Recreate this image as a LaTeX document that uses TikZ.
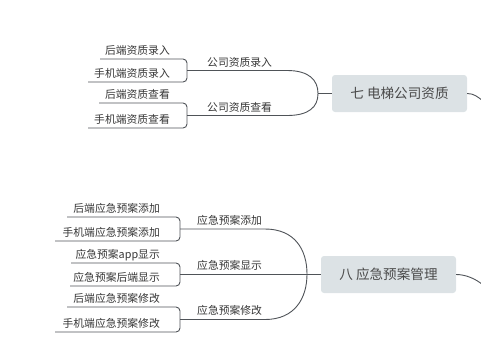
\documentclass[tikz,border=0pt]{standalone}
\usepackage{fontspec}
\setmainfont{Noto Sans CJK SC}
\definecolor{lnc}{HTML}{4F5358}
\definecolor{txc}{HTML}{363636}
\definecolor{nodefill}{HTML}{DCE2E5}
\definecolor{nodetxt}{HTML}{4A4A4A}
\begin{document}
\begin{tikzpicture}[x=1pt,y=-1pt,
  ln/.style={draw=lnc,line width=0.9pt},
  brk/.style={ln,rounded corners=4pt},
  leaf/.style={anchor=base east,inner sep=0pt,text=txc,font=\fontsize{10.8}{12}\selectfont},
  branch/.style={anchor=base west,inner sep=0pt,text=txc,font=\fontsize{10.8}{12}\selectfont},
  mainbox/.style={fill=nodefill,rounded corners=3pt,minimum width=135pt,minimum height=37pt,inner sep=0pt,text=nodetxt,font=\fontsize{13.6}{15}\selectfont}]
\useasboundingbox (0,0) rectangle (481,349);

% ---------- group 1 ----------
\node[mainbox] (m1) at (399.5,93.5) {七 电梯公司资质};
\coordinate (j1) at (318,93.5);

\node[branch] (b1) at (207,66) {公司资质录入};
\node[branch] (b2) at (207,111) {公司资质查看};
\node[leaf] (l1) at (170,54) {后端资质录入};
\node[leaf] (l2) at (170,77.5) {手机端资质录入};
\node[leaf] (l3) at (170,98) {后端资质查看};
\node[leaf] (l4) at (170,123) {手机端资质查看};

\coordinate (l1s) at (100,59);   \coordinate (l2s) at (88,82);
\coordinate (l3s) at (99,103);   \coordinate (l4s) at (88,128);
\draw[brk] (l1s) -- (187,59) -- (187,82) -- (l2s);
\draw[brk] (l3s) -- (187,103) -- (187,128) -- (l4s);
\draw[ln] (187,70.5) -- (287,70.5) .. controls (309,70.5) and (318,80) .. (j1);
\draw[ln] (187,115.5) -- (287,115.5) .. controls (309,115.5) and (318,107) .. (j1);
\draw[ln] (j1) -- (m1.west);
\coordinate (r1) at (483,101);
\draw[ln] (m1.east) .. controls (474,93.5) and (478,97) .. (r1);

% ---------- group 2 ----------
\node[mainbox] (m2) at (388.5,274.5) {八 应急预案管理};
\coordinate (j2) at (307,274);

\node[branch] (c1) at (197,224.5) {应急预案添加};
\node[branch] (c2) at (197,269.5) {应急预案显示};
\node[branch] (c3) at (197,314.5) {应急预案修改};

\node[leaf] (k1) at (160,212.5) {后端应急预案添加};
\node[leaf] (k2) at (160,236.5) {手机端应急预案添加};
\node[leaf] (k3) at (160,258.5) {应急预案app显示};
\node[leaf] (k4) at (160,281.5) {应急预案后端显示};
\node[leaf] (k5) at (160,302.5) {后端应急预案修改};
\node[leaf] (k6) at (160,327.5) {手机端应急预案修改};

\coordinate (k1s) at (67,217);  \coordinate (k2s) at (55,241);
\coordinate (k3s) at (71,263);  \coordinate (k4s) at (70,286);
\coordinate (k5s) at (67,307);  \coordinate (k6s) at (55,332);
\draw[brk] (k1s) -- (180,217) -- (180,241) -- (k2s);
\draw[brk] (k3s) -- (180,263) -- (180,286) -- (k4s);
\draw[brk] (k5s) -- (180,307) -- (180,332) -- (k6s);

\draw[ln] (180,229) -- (265,229) .. controls (295,229) and (307,250) .. (j2)
  .. controls (307,298) and (295,319.5) .. (265,319.5) -- (180,319.5);
\draw[ln] (180,274.5) -- (m2.west);
\coordinate (r2) at (483,285);
\draw[ln] (m2.east) .. controls (466,274.5) and (476,279) .. (r2);
\end{tikzpicture}
\end{document}
